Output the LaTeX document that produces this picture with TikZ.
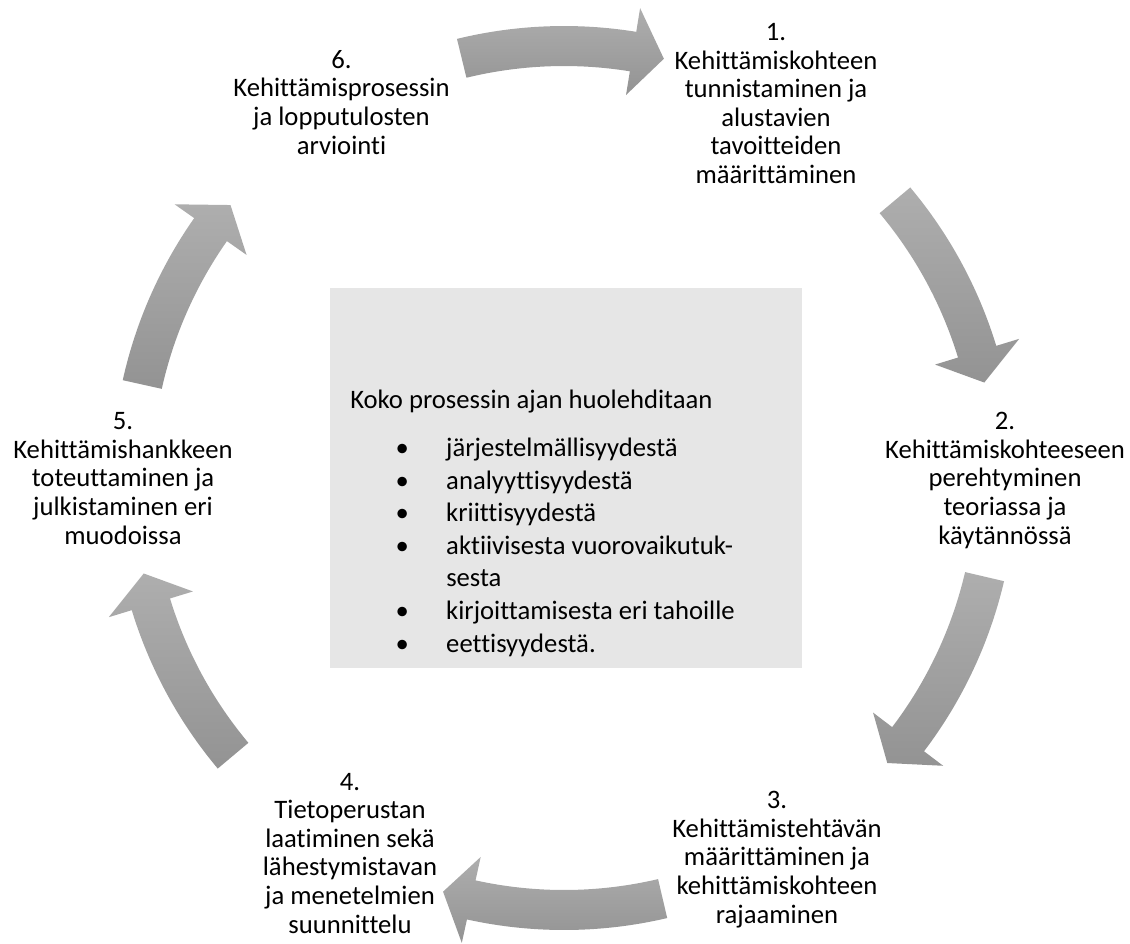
\documentclass[tikz,border=0pt]{standalone}
\usepackage{fontspec}
\setmainfont{Carlito}[Ligatures={NoCommon}]
\usetikzlibrary{positioning}
\definecolor{arrowtop}{HTML}{AEAEAE}
\definecolor{arrowbot}{HTML}{939393}
\definecolor{boxgray}{HTML}{E6E6E6}
% curved arrow of the cycle: tail angle, head angle, tip angle
\newcommand{\cyclearrow}[3]{%
  \shade[top color=arrowtop,bottom color=arrowbot]
    (#1:412) -- (#1:452) arc[start angle=#1,end angle=#2,radius=452]
    -- (#2:476) -- (#3:431) -- (#2:388) -- (#2:412)
    arc[start angle=#2,end angle=#1,radius=412] -- cycle;}

\begin{document}
\begin{tikzpicture}[x=0.75pt,y=-0.75pt,
  every node/.style={font=\fontsize{20pt}{21.4pt}\selectfont,inner sep=0pt},
  stagetext/.style={align=center,anchor=base}]
\useasboundingbox (0,0) rectangle (1130,943);
\begin{scope}[shift={(564,478)},y=0.75pt]
\cyclearrow{103.7}{80.8}{76.6}
\cyclearrow{40}{17}{12.8}
\cyclearrow{-13.2}{-37.2}{-41.4}
\cyclearrow{-76.8}{-102.4}{-106.3}
\cyclearrow{-140}{-163}{-167.2}
\cyclearrow{167.5}{144.9}{140.7}
\end{scope}
\node (focus) [fill=boxgray,minimum width=354pt,minimum height=285pt,anchor=north west] at (330,288) {};
% base of a multi-line node = baseline of its last line
\node (focustext) [anchor=base west,align=left,font=\fontsize{20pt}{24.4pt}\selectfont] at (350,652)
  {Koko prosessin ajan huolehditaan\\[11.6pt]
   \hspace*{34pt}\makebox[38pt][l]{•}järjestelmällisyydestä\\
   \hspace*{34pt}\makebox[38pt][l]{•}analyyttisyydestä\\
   \hspace*{34pt}\makebox[38pt][l]{•}kriittisyydestä\\
   \hspace*{34pt}\makebox[38pt][l]{•}aktiivisesta vuorovaikutuk-\\
   \hspace*{72pt}sesta\\
   \hspace*{34pt}\makebox[38pt][l]{•}kirjoittamisesta eri tahoille\\
   \hspace*{34pt}\makebox[38pt][l]{•}eettisyydestä.};
\node (s1) [stagetext] at (776,183.3) {1.\\Kehittämiskohteen\\tunnistaminen ja\\alustavien\\tavoitteiden\\määrittäminen};
\node (s2) [stagetext] at (1005,544) {2.\\Kehittämiskohteeseen\\perehtyminen\\teoriassa ja\\käytännössä};
\node (s3) [stagetext] at (777,923) {3.\\Kehittämistehtävän\\määrittäminen ja\\kehittämiskohteen\\rajaaminen};
\node (s4) [stagetext] at (350,933) {4.\\Tietoperustan\\laatiminen sekä\\lähestymistavan\\ja menetelmien\\suunnittelu};
\node (s5) [stagetext] at (123,544) {5.\\Kehittämishankkeen\\toteuttaminen ja\\julkistaminen eri\\muodoissa};
\node (s6) [stagetext] at (341.5,154) {6.\\Kehittämisprosessin\\ja lopputulosten\\arviointi};
\end{tikzpicture}
\end{document}
